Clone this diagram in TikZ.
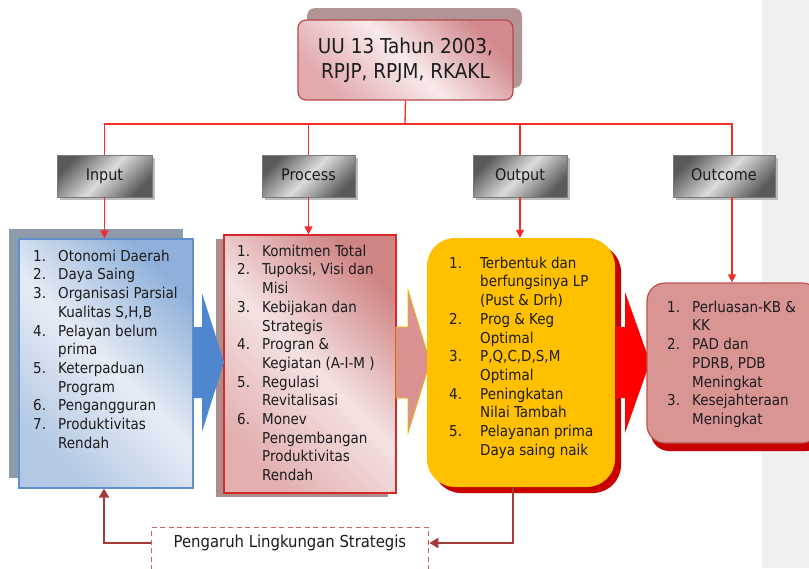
\documentclass[tikz,border=0pt]{standalone}
\usepackage{fontspec}
\setmainfont{DejaVu Sans Condensed}
\usetikzlibrary{arrows.meta,shadows}

\definecolor{linkred}{HTML}{F52C2C}
\definecolor{feedred}{HTML}{A43A3A}
\definecolor{topdark}{HTML}{D28A8E}
\definecolor{topmid}{HTML}{E2AAAD}
\definecolor{toplight}{HTML}{F8EAEA}
\definecolor{topedge}{HTML}{B8484E}
\definecolor{topshadow}{HTML}{B29494}
\definecolor{labdark}{HTML}{5A5A5A}
\definecolor{lablight}{HTML}{DCDCDC}
\definecolor{labedge}{HTML}{7A7A7A}
\definecolor{labshadow}{HTML}{BDBDBD}
\definecolor{inshadow}{HTML}{8D9BAB}
\definecolor{inedge}{HTML}{5D8ECF}
\definecolor{indark}{HTML}{8FB0DA}
\definecolor{inmid}{HTML}{B3C8E4}
\definecolor{inlight}{HTML}{E6ECF5}
\definecolor{procshadow}{HTML}{AE8D8D}
\definecolor{procedge}{HTML}{D42A2A}
\definecolor{procdark}{HTML}{D08585}
\definecolor{procmid}{HTML}{E3AFAF}
\definecolor{proclight}{HTML}{F5E2E2}
\definecolor{outfill}{HTML}{FFC000}
\definecolor{outshadow}{HTML}{C80000}
\definecolor{outcfill}{HTML}{D99594}
\definecolor{outcedge}{HTML}{C0504D}
\definecolor{bluearrow}{HTML}{4F86D0}
\definecolor{pinkarrow}{HTML}{D99191}
\definecolor{pinkarrowedge}{HTML}{F0B400}
\definecolor{redarrow}{HTML}{FF0000}
\definecolor{strip}{HTML}{F0F0F0}
\definecolor{envedge}{HTML}{C86060}
\definecolor{ink}{HTML}{1C1C1C}

% list helpers: numbered item and continuation line
\newcommand\liststrut{\rule{0pt}{12pt}}
\newcommand\itm[2][25pt]{\makebox[#1][l]{#2}}
\newcommand\cnt[1][25pt]{\hspace*{#1}}

\begin{document}
\begin{tikzpicture}[x=1pt,y=-1pt,
  link/.style={draw=linkred, line width=1.3pt},
  linkarrow/.style={link, -{Triangle[length=8pt,width=8pt]}},
  feed/.style={draw=feedred, line width=2pt, -{Triangle[length=9pt,width=10pt]}},
  topbox/.style={rounded corners=8pt, draw=topedge, line width=1.2pt,
    top color=topdark, bottom color=topmid, middle color=toplight, shading angle=-45,
    general shadow={fill=topshadow, shadow xshift=9pt, shadow yshift=12pt},
    minimum width=215pt, minimum height=80pt, align=center,
    font=\fontsize{20.5}{25}\selectfont, text=ink},
  labelbox/.style={draw=labedge, line width=0.8pt,
    top color=labdark, bottom color=labdark, middle color=lablight, shading angle=45,
    general shadow={fill=labshadow, shadow xshift=3pt, shadow yshift=-3pt},
    minimum height=42pt, text height=11pt, text depth=3pt,
    font=\fontsize{16}{19}\selectfont, text=ink},
  inputbox/.style={draw=inedge, line width=1.2pt,
    top color=indark, bottom color=inmid, middle color=inlight, shading angle=-45,
    general shadow={fill=inshadow, shadow xshift=-10pt, shadow yshift=10pt},
    minimum width=174pt, minimum height=249pt},
  procbox/.style={draw=procedge, line width=1.2pt,
    top color=procdark, bottom color=procmid, middle color=proclight, shading angle=-45,
    general shadow={fill=procshadow, shadow xshift=-8pt, shadow yshift=-4pt},
    minimum width=172pt, minimum height=258pt},
  outbox/.style={fill=outfill, rounded corners=28pt,
    general shadow={fill=outshadow, shadow xshift=6pt, shadow yshift=-6pt},
    minimum width=188pt, minimum height=249pt},
  outcbox/.style={fill=outcfill, draw=outcedge, line width=1.2pt, rounded corners=18pt,
    general shadow={fill=outshadow, shadow xshift=4pt, shadow yshift=-8pt},
    minimum width=173pt, minimum height=160pt},
  listtext/.style={inner sep=0pt, align=left, anchor=north west,
    font=\fontsize{15}{18.7}\selectfont, text=ink},
  envbox/.style={draw=envedge, line width=1.3pt, dash pattern=on 5pt off 3.5pt,
    minimum width=277pt, minimum height=63pt, anchor=north west}
]
\useasboundingbox (0,0) rectangle (809,568);
\fill[strip] (762,0) rectangle (809,568);

% heading and the four stage labels
\node[topbox] (law) at (405.5,60) {UU 13 Tahun 2003,\\RPJP, RPJM, RKAKL};
\node[labelbox, minimum width=95pt] (inlab) at (104.5,176) {Input};
\node[labelbox, minimum width=93pt] (proclab) at (308.5,176) {Process};
\node[labelbox, minimum width=94pt] (outlab) at (520,176) {Output};
\node[labelbox, minimum width=102pt] (outclab) at (724,176) {Outcome};

% distribution bus
\coordinate (bus) at (405,124);
\draw[link] (law.south) -- (bus);
\draw[link] (inlab.north) -- (inlab.north |- bus) -- ([xshift=8pt]outclab.north |- bus) -- ([xshift=8pt]outclab.north);
\draw[link] (proclab.north) -- (proclab.north |- bus);
\draw[link] (outlab.north) -- (outlab.north |- bus);

% stage boxes and the block arrows between them
\node[inputbox] (inbox) at (106,363.5) {};
\node[procbox] (procbox) at (310,364) {};
\fill[bluearrow] (193,327) -- (202,327) -- (202,293) -- (224,362) -- (202,432) -- (202,398) -- (193,398) -- cycle;
\fill[pinkarrow, draw=pinkarrowedge, line width=0.8pt] (396,327) -- (408,327) -- (408,290) -- (430,362) -- (408,433) -- (408,398) -- (396,398) -- cycle;
\node[outbox] (outbox) at (521,362.5) {};
\fill[redarrow] (615,327) -- (625,327) -- (625,292) -- (650,362) -- (625,433) -- (625,398) -- (615,398) -- cycle;
\node[outcbox] (outcbox) at (733.5,363) {};

% arrows into the stage boxes
\draw[linkarrow] (inlab.south) -- (inlab.south |- inbox.north);
\draw[linkarrow] (proclab.south) -- (proclab.south |- procbox.north);
\draw[linkarrow] (outlab.south) -- (outlab.south |- outbox.north);
\draw[linkarrow] ([xshift=8pt]outclab.south) -- ([xshift=8pt]outclab.south |- outcbox.north);

% box contents
\node[listtext] (intext) at (33,249) {\liststrut\itm{1.}Otonomi Daerah\\
  \itm{2.}Daya Saing\\
  \itm{3.}Organisasi Parsial\\
  \cnt Kualitas S,H,B\\
  \itm{4.}Pelayan belum\\
  \cnt prima\\
  \itm{5.}Keterpaduan\\
  \cnt Program\\
  \itm{6.}Pengangguran\\
  \itm{7.}Produktivitas\\
  \cnt Rendah};

\node[listtext] (proctext) at (237,244) {\liststrut\itm{1.}Komitmen Total\\
  \itm{2.}Tupoksi, Visi dan\\
  \cnt Misi\\
  \itm{3.}Kebijakan dan\\
  \cnt Strategis\\
  \itm{4.}Progran \&\\
  \cnt Kegiatan (A-I-M )\\
  \itm{5.}Regulasi\\
  \cnt Revitalisasi\\
  \itm{6.}Monev\\
  \cnt Pengembangan\\
  \cnt Produktivitas\\
  \cnt Rendah};

\node[listtext] (outtext) at (449,256) {\liststrut\itm[31pt]{1.}Terbentuk dan\\
  \cnt[31pt]berfungsinya LP\\
  \cnt[31pt](Pust \& Drh)\\
  \itm[31pt]{2.}Prog \& Keg\\
  \cnt[31pt]Optimal\\
  \itm[31pt]{3.}P,Q,C,D,S,M\\
  \cnt[31pt]Optimal\\
  \itm[31pt]{4.}Peningkatan\\
  \cnt[31pt]Nilai Tambah\\
  \itm[31pt]{5.}Pelayanan prima\\
  \cnt[31pt]Daya saing naik};

\node[listtext] (outctext) at (667,300) {\liststrut\itm{1.}Perluasan-KB \&\\
  \cnt KK\\
  \itm{2.}PAD dan\\
  \cnt PDRB, PDB\\
  \cnt Meningkat\\
  \itm{3.}Kesejahteraan\\
  \cnt Meningkat};

% environment feedback
\node[envbox] (env) at (151,527) {};
\node[font=\fontsize{16.5}{19}\selectfont, text=ink] (envtext) at (290,543) {Pengaruh Lingkungan Strategis};
\draw[feed] ([xshift=-8pt]outbox.south) |- (env.east |- envtext);
\draw[feed] (env.west |- envtext) -| ([xshift=-2pt]inbox.south);
\end{tikzpicture}
\end{document}
